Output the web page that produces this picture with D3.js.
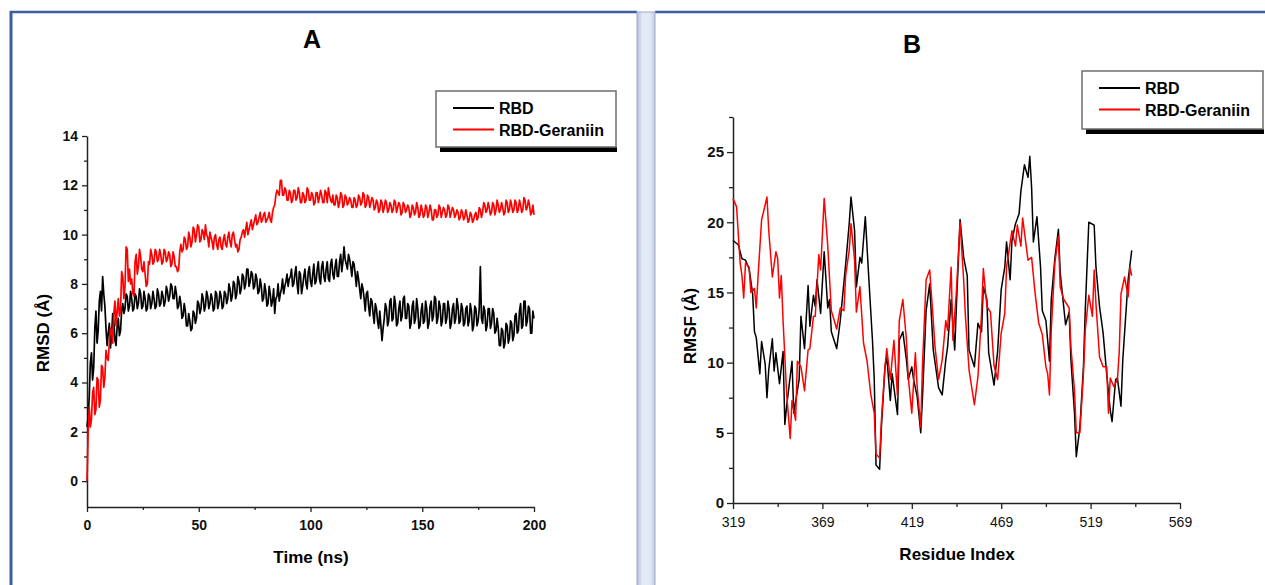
<!DOCTYPE html>
<html>
<head>
<meta charset="utf-8">
<script src="https://cdn.jsdelivr.net/npm/d3@7"></script>
<style>
  body { margin: 0; background: #fff; }
  svg text { font-family: "Liberation Sans", Arial, sans-serif; }
</style>
</head>
<body>
<div id="chart-area"></div>
<script>
// ---- data ----
const seriesNames = ["RBD", "RBD-Geraniin"];
const seriesColors = ["#000000", "#ff0000"];

// RMSD (Å), one value every 0.5 ns, 0..200 ns (one row = 10 ns)
const rmsdStepNs = 0.5;
const rmsdRbd = [
  2.2,2.6,3.4,4.8,5.2,4.1,4.6,6.2,6.9,5.6,6.1,7.3,7.7,6.9,8.3,7.6,7.1,6.2,5.5,6.0,
  6.4,5.4,5.9,6.8,6.5,5.7,5.5,6.3,6.6,5.9,6.1,6.9,7.2,6.8,7.0,7.6,7.5,6.9,7.1,7.7,
  7.4,6.9,7.0,7.6,7.5,7.0,7.2,7.8,7.6,7.0,7.1,7.7,7.4,6.9,7.0,7.6,7.5,7.0,7.2,7.7,
  7.4,7.0,7.1,7.8,7.6,7.1,7.2,7.7,7.5,7.1,7.3,7.9,7.7,7.3,7.5,8.0,7.9,7.4,7.4,7.9,
  7.6,7.0,7.1,7.5,7.2,6.6,6.7,7.2,6.9,6.3,6.3,6.8,6.5,6.1,6.2,6.9,6.8,6.4,6.6,7.3,
  7.2,6.8,7.0,7.6,7.4,6.9,7.1,7.7,7.5,7.0,7.2,7.6,7.4,6.9,7.0,7.7,7.6,7.0,7.2,7.7,
  7.5,7.0,7.1,7.7,7.6,7.2,7.4,8.0,7.8,7.3,7.5,8.1,8.0,7.4,7.6,8.3,8.1,7.6,7.8,8.4,
  8.3,7.8,8.0,8.6,8.6,7.9,8.1,8.5,8.4,7.8,7.9,8.4,8.2,7.6,7.7,8.2,7.9,7.3,7.4,8.0,
  7.7,7.1,7.2,7.9,7.6,7.1,7.3,7.8,6.8,7.4,7.5,8.0,7.3,7.6,7.8,8.2,7.6,7.9,8.1,8.4,
  7.9,8.2,8.3,8.6,7.9,8.0,8.4,8.7,8.0,7.6,8.5,8.4,7.6,7.9,8.3,8.6,8.0,7.8,8.5,8.7,
  8.1,7.9,8.4,8.8,8.0,8.1,8.6,8.9,8.2,8.0,8.7,8.9,8.3,8.1,8.6,8.9,8.2,8.1,8.8,9.0,
  8.4,8.2,8.7,9.0,8.3,8.3,8.9,9.2,8.5,8.9,9.5,9.0,8.8,8.6,9.2,9.0,8.7,8.3,8.9,8.8,
  8.4,7.9,8.5,8.2,7.8,7.4,8.0,7.8,7.4,6.9,7.6,7.7,7.1,6.7,7.4,7.3,6.8,6.4,7.2,7.0,
  6.5,6.2,6.9,6.3,5.7,6.2,6.6,7.2,7.0,6.3,6.5,7.3,7.4,6.5,6.6,7.5,7.2,6.3,6.4,7.0,
  7.3,6.5,6.7,7.4,7.5,6.6,6.6,7.2,7.1,6.2,6.4,7.1,7.3,6.4,6.6,7.4,7.0,6.2,6.3,6.9,
  7.2,6.4,6.5,7.3,7.0,6.2,6.4,7.1,7.3,6.5,6.7,7.5,7.4,6.4,6.6,7.3,7.1,6.3,6.5,7.2,
  7.2,6.4,6.6,7.3,7.0,6.2,6.4,7.0,7.2,6.4,6.6,7.4,7.1,6.4,6.5,7.2,7.0,6.3,6.4,7.0,
  7.1,6.3,6.5,7.2,6.9,6.1,6.3,7.1,7.0,6.3,6.5,7.0,8.7,6.6,6.4,7.1,6.9,6.1,6.3,7.0,
  7.0,6.2,6.4,7.0,6.8,6.0,6.1,6.6,6.2,5.5,5.5,6.2,6.1,5.4,5.6,6.4,6.3,5.6,5.8,6.5,
  6.4,5.7,5.9,6.7,6.8,6.0,6.1,6.9,7.2,6.2,6.3,7.3,7.3,6.3,6.5,7.1,7.0,6.0,6.0,6.9,
  6.6
];
const rmsdGer = [
  0.0,1.9,3.0,2.2,2.5,3.6,3.8,2.7,2.9,4.2,4.1,3.0,3.3,4.7,4.6,3.8,4.2,5.3,5.0,4.9,
  5.6,6.2,6.1,5.6,6.8,7.3,6.3,6.9,7.4,6.7,6.9,8.5,8.3,7.4,7.9,9.5,9.4,8.1,8.6,8.0,
  8.2,7.6,7.5,8.9,9.2,8.4,8.7,9.4,9.1,8.6,8.5,8.9,8.4,7.9,8.0,8.9,8.8,9.4,9.2,8.8,
  8.9,9.4,9.3,8.9,9.0,9.4,9.2,8.8,8.9,9.4,9.3,8.9,9.0,9.3,9.2,8.7,8.8,9.3,9.1,8.7,
  8.7,8.5,8.6,9.3,9.6,9.3,9.4,9.9,9.8,9.4,9.5,10.1,9.9,9.5,9.7,10.3,10.2,9.7,10.0,10.4,
  10.3,9.7,9.8,10.2,10.1,9.8,10.4,10.0,9.9,9.5,10.1,9.9,9.7,9.4,9.9,10.0,9.6,9.4,9.8,9.9,
  9.5,9.4,9.8,10.0,9.6,9.5,9.9,10.1,9.7,9.5,10.0,10.1,9.8,9.5,9.6,9.3,9.4,9.8,9.9,10.1,
  10.2,9.9,10.2,10.5,10.0,10.2,10.4,10.6,10.2,10.4,10.6,10.8,10.4,10.5,10.7,10.9,10.5,10.6,10.8,10.9,
  10.5,10.6,10.7,10.9,10.6,10.5,10.9,11.1,11.2,11.6,11.8,11.7,11.6,12.2,12.2,11.6,11.6,11.9,11.8,11.4,
  11.4,11.8,11.7,11.3,11.4,11.8,11.8,11.4,11.5,11.9,11.7,11.3,11.3,11.7,11.6,11.3,11.4,11.9,11.8,11.4,
  11.4,11.7,11.6,11.2,11.3,11.7,11.7,11.3,11.5,11.8,11.6,11.3,11.3,11.8,11.7,11.3,11.9,11.6,11.4,11.3,
  11.6,11.2,11.2,11.6,11.5,11.1,11.3,11.7,11.6,11.1,11.2,11.6,11.5,11.2,11.3,11.5,11.4,11.1,11.1,11.5,
  11.4,11.1,11.2,11.6,11.5,11.2,11.3,11.7,11.6,11.1,11.2,11.6,11.5,11.1,11.3,11.5,11.4,11.0,11.1,11.4,
  11.3,10.9,11.0,11.4,11.3,10.9,11.1,11.4,11.3,10.9,11.0,11.3,11.2,10.9,11.0,11.4,11.3,10.9,11.1,11.3,
  11.2,10.8,10.9,11.3,11.2,10.9,11.0,11.2,11.1,10.7,10.8,11.2,11.1,10.8,10.9,11.3,11.1,10.7,10.8,11.2,
  11.0,10.7,10.8,11.2,11.1,10.7,10.9,11.2,11.0,10.6,10.6,11.0,11.0,10.7,10.8,11.2,11.1,10.7,10.9,11.1,
  11.0,10.7,10.8,11.2,11.1,10.7,10.9,11.1,11.0,10.7,10.8,11.0,10.9,10.6,10.7,11.0,10.9,10.6,10.7,11.0,
  10.8,10.5,10.6,10.9,10.8,10.5,10.6,10.8,10.9,10.6,10.7,11.1,11.0,10.7,10.9,11.3,11.2,10.9,11.0,11.3,
  11.1,10.8,10.9,11.3,11.2,10.8,11.0,11.4,11.2,10.9,11.0,11.3,11.1,10.8,10.9,11.4,11.3,10.9,11.0,11.4,
  11.2,10.9,11.0,11.4,11.3,10.9,11.0,11.4,11.2,10.9,11.0,11.5,11.4,11.0,11.1,11.4,11.2,10.8,10.9,11.2,
  10.8
];
const rmsdXTicks = [0, 50, 100, 150, 200];
const rmsdXMinor = [25, 75, 125, 175];
const rmsdYTicks = [0, 2, 4, 6, 8, 10, 12, 14];
const rmsdYMinor = [1, 3, 5, 7, 9, 11, 13];

// RMSF (Å) per residue
const rmsfRbdRes = [319,322,324,326,328,330,331,332,334,335,337,338,339,341,342,343,345,347,348,349,
  352,353,356,357,359,361,362,364,365,366,368,370,372,373,374,377,379,382,384,385,
  387,388,390,391,393,395,397,398,399,401,402,404,405,407,408,411,412,414,416,417,
  419,420,422,424,425,427,429,431,434,436,438,439,441,443,444,446,448,450,451,454,
  456,458,459,461,462,465,467,469,471,472,474,475,477,479,480,482,484,485,486,487,
  489,491,492,494,496,497,499,501,502,505,507,508,510,511,513,515,516,518,521,522,
  524,526,528,530,531,533,534,536,537,540,542];
const rmsfRbd = [18.7,18.4,17.4,17.3,16.7,14.9,12.2,11.8,9.2,11.5,9.9,7.5,9.5,11.7,9.4,10.7,8.5,10.8,5.6,6.9,
  10.1,6.4,8.8,13.3,11.0,15.5,12.6,14.8,14.0,15.9,13.5,17.9,13.9,14.5,12.2,11.0,13.0,17.0,19.9,21.8,
  19.4,15.4,17.5,17.1,20.4,15.9,11.6,8.8,2.7,2.4,5.4,9.7,10.4,7.3,9.2,6.3,11.6,12.2,10.2,8.8,
  9.7,8.8,7.6,5.0,7.6,13.7,15.6,10.9,8.2,7.7,10.2,11.1,14.5,10.9,14.2,20.2,17.5,16.2,10.9,9.7,
  12.8,12.2,15.4,14.5,10.7,8.4,10.8,15.2,16.8,18.6,15.9,18.7,19.9,20.6,22.2,24.1,23.2,24.7,22.5,18.6,
  20.4,16.8,13.7,13.0,10.1,14.5,17.4,19.5,16.4,12.7,13.6,10.2,6.4,3.3,5.4,9.7,13.7,20.0,19.8,16.8,
  14.0,12.1,9.2,6.6,5.8,8.8,8.9,6.9,10.2,15.9,18.0];
const rmsfGerRes = [319,321,323,324,325,326,328,329,331,332,333,335,336,338,339,341,343,344,345,346,
  347,349,351,352,354,355,357,359,361,362,364,365,367,368,370,372,374,377,379,381,
  382,384,385,387,388,390,392,394,396,398,399,401,402,404,405,407,409,411,412,414,
  416,417,419,421,422,424,425,427,429,431,432,434,436,438,439,441,442,444,446,448,
  449,451,454,456,458,459,461,463,465,467,469,471,472,475,477,478,480,481,483,484,
  486,488,490,492,494,495,496,497,499,501,502,504,507,508,510,511,513,515,516,518,
  520,521,522,524,526,528,529,530,532,534,535,536,538,540,541,542];
const rmsfGer = [21.7,21.1,17.1,16.2,14.6,17.1,16.8,15.0,15.3,13.9,16.1,20.2,20.7,21.8,19.4,16.1,17.9,17.4,14.6,16.2,
  13.0,7.8,4.6,7.3,5.9,10.1,9.7,8.0,10.9,11.0,13.3,13.3,17.7,16.6,21.7,18.3,13.7,12.4,13.9,13.7,
  16.2,18.0,19.9,17.3,13.6,15.4,11.4,10.1,7.8,6.4,3.5,3.2,5.9,9.7,11.0,8.8,11.6,7.6,13.0,14.5,
  11.6,9.0,6.4,10.7,8.3,5.4,9.9,15.9,16.6,13.0,11.1,8.8,10.2,13.0,12.3,16.8,11.6,15.2,20.0,15.9,
  13.3,9.5,7.0,9.0,13.5,16.7,14.0,13.6,9.8,8.8,12.1,13.5,16.8,19.4,18.3,19.8,18.3,20.3,18.3,17.3,
  17.5,14.9,12.8,12.0,9.7,9.2,7.7,12.3,17.1,19.0,15.4,14.5,13.9,11.1,8.0,5.0,5.0,9.2,12.3,14.8,
  13.3,16.6,14.2,10.4,9.7,9.7,6.4,8.9,8.3,8.8,10.7,14.9,16.1,14.7,16.8,16.2];
const rmsfXTicks = [319, 369, 419, 469, 519, 569];
const rmsfXMinor = [344, 394, 444, 494, 544];
const rmsfYTicks = [0, 5, 10, 15, 20, 25];
const rmsfYMinor = [2.5, 7.5, 12.5, 17.5, 22.5, 27.5];

// ---- page ----
const svgWidth = 1265;
const svgHeight = 585;
const svg = d3.select("#chart-area")
  .append("svg")
  .attr("width", svgWidth)
  .attr("height", svgHeight);

const frameBlue = "#3b5e9c";

// panel frames and divider
svg.append("line").attr("x1", 11).attr("x2", 11).attr("y1", 11).attr("y2", svgHeight)
  .attr("stroke", frameBlue).attr("stroke-width", 3);
svg.append("line").attr("x1", 10).attr("x2", 637).attr("y1", 12).attr("y2", 12)
  .attr("stroke", frameBlue).attr("stroke-width", 2.5);
svg.append("line").attr("x1", 655).attr("x2", svgWidth).attr("y1", 12).attr("y2", 12)
  .attr("stroke", frameBlue).attr("stroke-width", 2.5);

const grad = svg.append("defs").append("linearGradient")
  .attr("id", "divider-grad")
  .attr("x1", "0%").attr("x2", "100%").attr("y1", "0%").attr("y2", "0%");
grad.selectAll("stop")
  .data([
    { offset: "0%", color: "#b4bfdc" },
    { offset: "30%", color: "#e4e9f6" },
    { offset: "70%", color: "#e4e9f6" },
    { offset: "100%", color: "#c3cce6" }
  ])
  .enter().append("stop")
  .attr("offset", d => d.offset)
  .attr("stop-color", d => d.color);

svg.append("rect")
  .attr("x", 637).attr("y", 12).attr("width", 18).attr("height", svgHeight)
  .attr("fill", "url(#divider-grad)")
  .attr("stroke", "#9eaacb").attr("stroke-width", 1);

function styleAxis(g, fontSize, fontWeight) {
  g.select(".domain").attr("stroke", "#222").attr("stroke-width", 1.5);
  g.selectAll(".tick line").attr("stroke", "#222").attr("stroke-width", 1.3);
  g.selectAll(".tick text")
    .attr("fill", "#111")
    .style("font-size", fontSize + "px")
    .style("font-weight", fontWeight)
    .style("font-family", "'Liberation Sans', Arial, sans-serif");
}

function drawLegend(x, y, w, h) {
  const lg = svg.append("g").attr("transform", `translate(${x},${y})`);
  lg.append("rect")
    .attr("x", 4).attr("y", h).attr("width", w - 3).attr("height", 5)
    .attr("fill", "#000");
  lg.append("rect")
    .attr("width", w).attr("height", h)
    .attr("fill", "#fff")
    .attr("stroke", "#6e6e6e").attr("stroke-width", 1.5);
  seriesNames.forEach((name, i) => {
    const ly = 17 + i * 21.5;
    lg.append("line")
      .attr("x1", 17).attr("x2", 58).attr("y1", ly).attr("y2", ly)
      .attr("stroke", seriesColors[i]).attr("stroke-width", 1.8);
    lg.append("text")
      .attr("x", 63).attr("y", ly + 6)
      .style("font-size", "16px").style("font-weight", "bold")
      .text(name);
  });
}

// ---- A: RMSD vs time ----
function renderRmsd() {
  const xScale = d3.scaleLinear().domain([0, 200]).range([87, 534]);
  const yScale = d3.scaleLinear().domain([-1.05, 14]).range([507, 136]);

  const xAxisG = svg.append("g").attr("transform", "translate(0,507)")
    .call(d3.axisBottom(xScale).tickValues(rmsdXTicks).tickSize(5).tickSizeOuter(0).tickPadding(8));
  styleAxis(xAxisG, 14, "bold");
  const xMinorG = svg.append("g").attr("transform", "translate(0,507)")
    .call(d3.axisBottom(xScale).tickValues(rmsdXMinor).tickSize(3).tickSizeOuter(0).tickFormat(""));
  styleAxis(xMinorG, 14, "bold");
  xMinorG.select(".domain").remove();

  const yAxisG = svg.append("g").attr("transform", "translate(87,0)")
    .call(d3.axisLeft(yScale).tickValues(rmsdYTicks).tickSize(5).tickSizeOuter(0).tickPadding(4));
  styleAxis(yAxisG, 14, "bold");
  const yMinorG = svg.append("g").attr("transform", "translate(87,0)")
    .call(d3.axisLeft(yScale).tickValues(rmsdYMinor).tickSize(3).tickSizeOuter(0).tickFormat(""));
  styleAxis(yMinorG, 14, "bold");
  yMinorG.select(".domain").remove();

  const line = d3.line()
    .x((d, i) => xScale(i * rmsdStepNs))
    .y(d => yScale(d));

  [rmsdRbd, rmsdGer].forEach((series, i) => {
    svg.append("path")
      .datum(series)
      .attr("fill", "none")
      .attr("stroke", seriesColors[i])
      .attr("stroke-width", 1.7)
      .attr("stroke-linejoin", "round")
      .attr("d", line);
  });

  svg.append("text")
    .attr("x", 312).attr("y", 48)
    .attr("text-anchor", "middle")
    .style("font-size", "25px").style("font-weight", "bold")
    .text("A");

  svg.append("text")
    .attr("x", 311).attr("y", 563)
    .attr("text-anchor", "middle")
    .style("font-size", "17px").style("font-weight", "bold")
    .text("Time (ns)");

  svg.append("text")
    .attr("transform", "rotate(-90)")
    .attr("x", -333).attr("y", 49)
    .attr("text-anchor", "middle")
    .style("font-size", "17px").style("font-weight", "bold")
    .text("RMSD (Å)");

  drawLegend(436, 91, 180, 56);
}

// ---- B: RMSF vs residue ----
function renderRmsf() {
  const xScale = d3.scaleLinear().domain([319, 569]).range([733, 1180]);
  const yScale = d3.scaleLinear().domain([0, 27.5]).range([503, 117]);

  const xAxisG = svg.append("g").attr("transform", "translate(0,503)")
    .call(d3.axisBottom(xScale).tickValues(rmsfXTicks).tickSize(6).tickSizeOuter(0).tickPadding(8));
  styleAxis(xAxisG, 14, "normal");
  const xMinorG = svg.append("g").attr("transform", "translate(0,503)")
    .call(d3.axisBottom(xScale).tickValues(rmsfXMinor).tickSize(4).tickSizeOuter(0).tickFormat(""));
  styleAxis(xMinorG, 14, "normal");
  xMinorG.select(".domain").remove();

  const yAxisG = svg.append("g").attr("transform", "translate(733,0)")
    .call(d3.axisLeft(yScale).tickValues(rmsfYTicks).tickSize(6).tickSizeOuter(0).tickPadding(3));
  styleAxis(yAxisG, 15, "bold");
  const yMinorG = svg.append("g").attr("transform", "translate(733,0)")
    .call(d3.axisLeft(yScale).tickValues(rmsfYMinor).tickSize(4).tickSizeOuter(0).tickFormat(""));
  styleAxis(yMinorG, 15, "bold");
  yMinorG.select(".domain").remove();

  const line = d3.line()
    .x(d => xScale(d[0]))
    .y(d => yScale(d[1]));

  const rbdPts = rmsfRbdRes.map((r, i) => [r, rmsfRbd[i]]);
  const gerPts = rmsfGerRes.map((r, i) => [r, rmsfGer[i]]);

  [rbdPts, gerPts].forEach((pts, i) => {
    svg.append("path")
      .datum(pts)
      .attr("fill", "none")
      .attr("stroke", seriesColors[i])
      .attr("stroke-width", 1.5)
      .attr("stroke-linejoin", "round")
      .attr("d", line);
  });

  svg.append("text")
    .attr("x", 912).attr("y", 53)
    .attr("text-anchor", "middle")
    .style("font-size", "25px").style("font-weight", "bold")
    .text("B");

  svg.append("text")
    .attr("x", 957).attr("y", 560)
    .attr("text-anchor", "middle")
    .style("font-size", "17px").style("font-weight", "bold")
    .text("Residue Index");

  svg.append("text")
    .attr("transform", "rotate(-90)")
    .attr("x", -326).attr("y", 696)
    .attr("text-anchor", "middle")
    .style("font-size", "17px").style("font-weight", "bold")
    .text("RMSF (Å)");

  drawLegend(1082, 71, 181, 58);
}

renderRmsd();
renderRmsf();
</script>
</body>
</html>
